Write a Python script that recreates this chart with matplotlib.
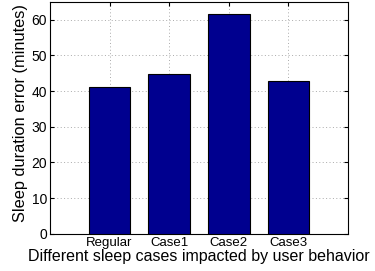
import matplotlib

matplotlib.use("Agg")
import matplotlib.pyplot as plt

categories = ["Regular", "Case1", "Case2", "Case3"]
errors = [41.2, 44.7, 61.7, 42.8]
y_ticks = [0, 10, 20, 30, 40, 50, 60]

plt.rcParams["font.family"] = ["Liberation Sans", "DejaVu Sans"]

fig = plt.figure(figsize=(3.75, 2.71), dpi=100)
ax = fig.add_axes([0.133, 0.137, 0.795, 0.856])

positions = list(range(1, len(categories) + 1))
ax.bar(positions, errors, width=0.7, color="#00008F", edgecolor="black", linewidth=0.8, zorder=3)

ax.set_xlim(0, 5)
ax.set_ylim(0, 65)
ax.set_xticks(positions)
ax.set_xticklabels(categories, fontsize=9.5)
ax.set_yticks(y_ticks)
ax.tick_params(axis="y", labelsize=10)
ax.tick_params(direction="in", top=True, right=True, length=3, pad=2)
ax.grid(True, linestyle=(0, (1, 2.5)), color="#aaaaaa", linewidth=0.7, zorder=0)
ax.set_xlabel("Different sleep cases impacted by user behavior", fontsize=11.5, labelpad=0.5)
ax.set_ylabel("Sleep duration error (minutes)", fontsize=11.8)
ax.yaxis.set_label_coords(-0.072, 0.52)

fig.savefig("out.png")
